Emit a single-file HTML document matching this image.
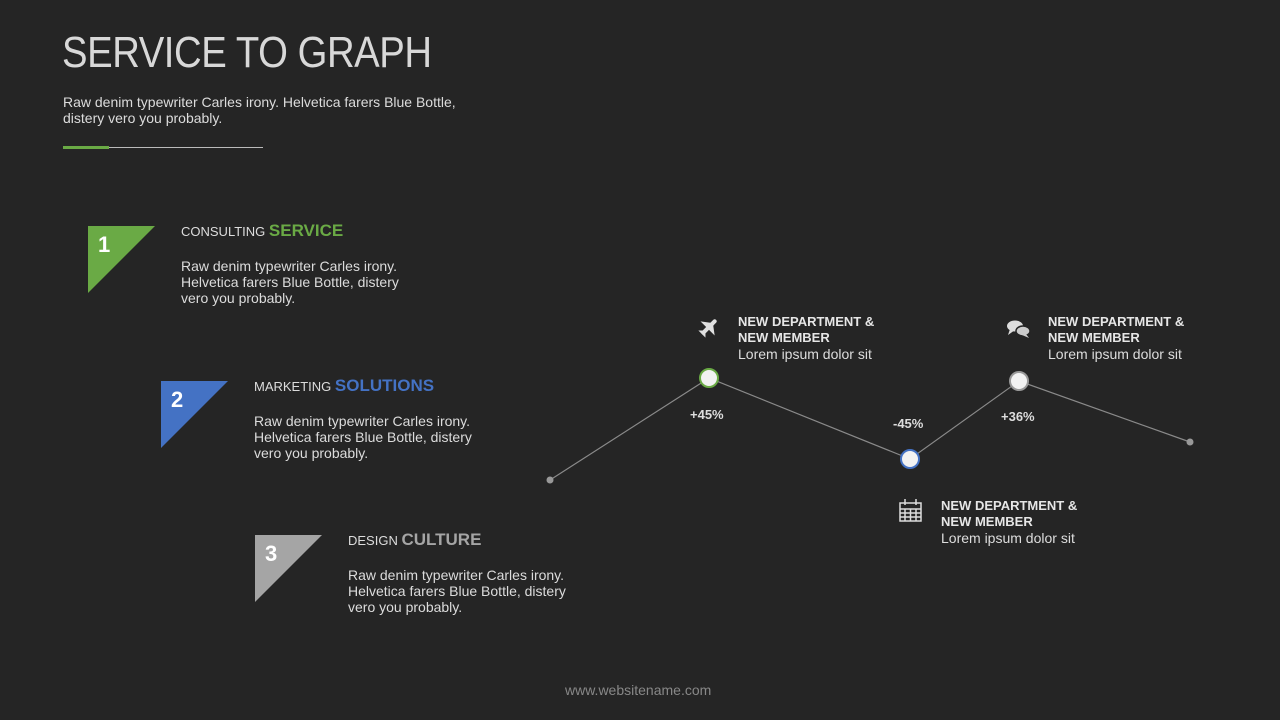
<!DOCTYPE html>
<html><head><meta charset="utf-8"><style>
body{margin:0;width:1280px;height:720px;background:#252525;position:relative;overflow:hidden;font-family:"Liberation Sans","DejaVu Sans",sans-serif;color:#ddd}
.a{position:absolute;white-space:nowrap}
.t{font-size:44px;font-weight:300;color:#d8d8d8;letter-spacing:-0.5px;transform:scaleX(0.87);transform-origin:left}
.p{font-size:14px;line-height:16px;color:#dcdcdc}
.h{font-size:13px;color:#ddd}
.h b{font-size:17px}
.g{font-size:14px;line-height:16px;color:#ddd}
.g b{display:block;color:#e6e6e6;font-size:13px;line-height:16px}
.g span{display:block;line-height:16px}
.n{font-size:22px;font-weight:bold;color:#fff}
.pc{font-size:13px;font-weight:bold;color:#ddd}
</style></head><body>
<div class="a t" style="left:62px;top:28px">SERVICE TO GRAPH</div>
<div class="a p" style="left:63px;top:94px">Raw denim typewriter Carles irony. Helvetica farers Blue Bottle,<br>distery vero you probably.</div>
<div class="a" style="left:63px;top:147px;width:200px;height:1px;background:#bbb"></div>
<div class="a" style="left:63px;top:146px;width:46px;height:3px;background:#6aaa45"></div>

<svg class="a" style="left:0;top:0" width="1280" height="720">
<polygon points="88,226 155,226 88,293" fill="#6aaa45"/>
<polygon points="161,381 228,381 161,448" fill="#4472c4"/>
<polygon points="255,535 322,535 255,602" fill="#a5a5a5"/>
<polyline points="550,480 709,378 910,459 1019,381 1190,442" fill="none" stroke="#8a8a8a" stroke-width="1.2"/>
<circle cx="550" cy="480" r="3.5" fill="#999"/>
<circle cx="1190" cy="442" r="3.5" fill="#999"/>
<circle cx="709" cy="378" r="9" fill="#f2f2f2" stroke="#6aaa45" stroke-width="2"/>
<circle cx="910" cy="459" r="9" fill="#f2f2f2" stroke="#4472c4" stroke-width="2"/>
<circle cx="1019" cy="381" r="9" fill="#f2f2f2" stroke="#999" stroke-width="2"/>
<g fill="#e0e0e0" transform="translate(709,327) rotate(45)">
<rect x="-2" y="-10" width="4" height="20" rx="2"/>
<polygon points="-10,2 10,2 2,-4 -2,-4"/>
<polygon points="-5,10 5,10 1,6 -1,6"/>
</g>
<g fill="#ddd">
<ellipse cx="1015" cy="326" rx="8" ry="5.5"/>
<polygon points="1010,329 1008,335 1015,330"/>
<ellipse cx="1023" cy="331" rx="7" ry="5" fill="#ccc" stroke="#252525" stroke-width="1.5"/>
<polygon points="1026,334 1029,338 1022,335" fill="#ccc"/>
</g>
<g fill="none" stroke="#ddd" stroke-width="1.5">
<rect x="900" y="503" width="21" height="18"/>
<line x1="900" y1="509" x2="921" y2="509"/>
<line x1="900" y1="513" x2="921" y2="513"/>
<line x1="900" y1="517" x2="921" y2="517"/>
<line x1="905" y1="509" x2="905" y2="521"/>
<line x1="910.5" y1="509" x2="910.5" y2="521"/>
<line x1="916" y1="509" x2="916" y2="521"/>
<line x1="905" y1="499" x2="905" y2="505"/>
<line x1="916" y1="499" x2="916" y2="505"/>
</g>
</svg>

<div class="a n" style="left:98px;top:232px">1</div>
<div class="a n" style="left:171px;top:387px">2</div>
<div class="a n" style="left:265px;top:541px">3</div>

<div class="a h" style="left:181px;top:221px">CONSULTING <b style="color:#6aaa45">SERVICE</b></div>
<div class="a p" style="left:181px;top:258px">Raw denim typewriter Carles irony.<br>Helvetica farers Blue Bottle, distery<br>vero you probably.</div>
<div class="a h" style="left:254px;top:376px">MARKETING <b style="color:#4472c4">SOLUTIONS</b></div>
<div class="a p" style="left:254px;top:413px">Raw denim typewriter Carles irony.<br>Helvetica farers Blue Bottle, distery<br>vero you probably.</div>
<div class="a h" style="left:348px;top:530px">DESIGN <b style="color:#a5a5a5">CULTURE</b></div>
<div class="a p" style="left:348px;top:567px">Raw denim typewriter Carles irony.<br>Helvetica farers Blue Bottle, distery<br>vero you probably.</div>

<div class="a g" style="left:738px;top:314px"><b>NEW DEPARTMENT &amp;</b><b>NEW MEMBER</b><span>Lorem ipsum dolor sit</span></div>
<div class="a g" style="left:1048px;top:314px"><b>NEW DEPARTMENT &amp;</b><b>NEW MEMBER</b><span>Lorem ipsum dolor sit</span></div>
<div class="a g" style="left:941px;top:498px"><b>NEW DEPARTMENT &amp;</b><b>NEW MEMBER</b><span>Lorem ipsum dolor sit</span></div>

<div class="a pc" style="left:690px;top:407px">+45%</div>
<div class="a pc" style="left:893px;top:416px">-45%</div>
<div class="a pc" style="left:1001px;top:409px">+36%</div>

<div class="a" style="left:565px;top:682px;font-size:14px;color:#888">www.websitename.com</div>
</body></html>
